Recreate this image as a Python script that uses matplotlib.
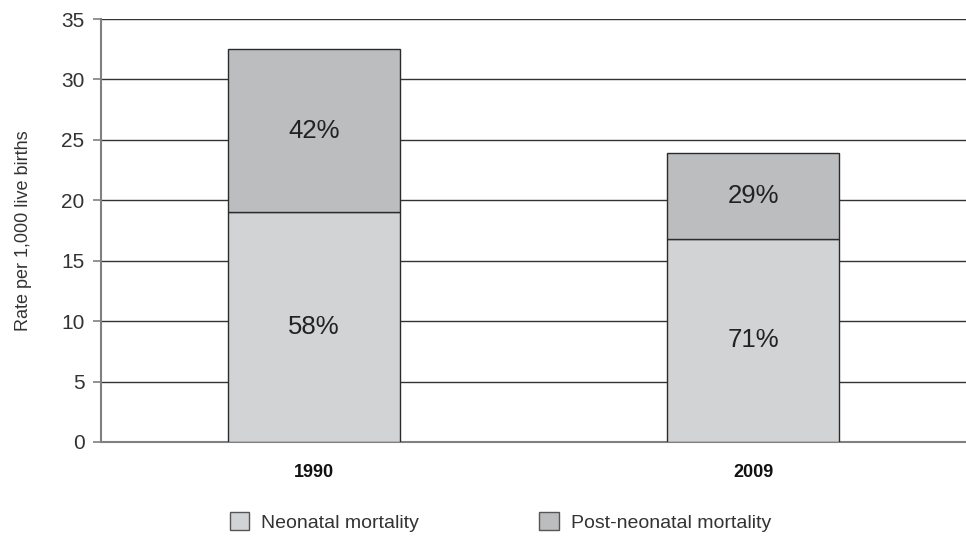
import numpy as np
import matplotlib.pyplot as plt
from matplotlib.patches import Patch

plt.rcParams['font.family'] = ['Liberation Sans', 'DejaVu Sans']

years = ['1990', '2009']
neonatal = [19.0, 16.8]
post_neonatal = [13.5, 7.1]
neonatal_pct = ['58%', '71%']
post_pct = ['42%', '29%']

col_neo = '#d2d3d5'
col_post = '#bcbdbf'
edge = '#2b2b2b'

fig = plt.figure(figsize=(9.66, 5.37), dpi=100)
ax = fig.add_axes([0.1046, 0.177, 0.8954, 0.7876])

x = np.arange(len(years))
w = 0.392
ax.bar(x, neonatal, w, color=col_neo, edgecolor=edge, linewidth=1, zorder=3)
ax.bar(x, post_neonatal, w, bottom=neonatal, color=col_post, edgecolor=edge, linewidth=1, zorder=3)

for i in range(len(years)):
    ax.text(x[i], neonatal[i] / 2, neonatal_pct[i], ha='center', va='center',
            fontsize=18.5, color='#222222', zorder=4)
    ax.text(x[i], neonatal[i] + post_neonatal[i] / 2, post_pct[i], ha='center', va='center',
            fontsize=18.5, color='#222222', zorder=4)

ax.set_ylim(0, 35)
ax.set_xlim(-0.485, 1.485)
ax.set_yticks(np.arange(0, 36, 5))
ax.yaxis.grid(True, color='#333333', linewidth=1, zorder=0)
ax.set_axisbelow(True)

for s in ['top', 'right']:
    ax.spines[s].set_visible(False)
ax.spines['left'].set_color('#808080')
ax.spines['left'].set_linewidth(1.5)
ax.spines['bottom'].set_color('#808080')
ax.spines['bottom'].set_linewidth(1.5)

ax.tick_params(axis='y', length=6, width=1.2, color='#808080', pad=6, labelsize=15, labelcolor='#333333')
ax.tick_params(axis='x', length=0, pad=16)
ax.set_xticks(x)
ax.set_xticklabels(years, fontsize=13, fontweight='bold', color='#111111')

ax.set_ylabel('Rate per 1,000 live births', fontsize=13, color='#333333', labelpad=21)

handles = [Patch(facecolor=col_neo, edgecolor='#555555', label='Neonatal mortality'),
           Patch(facecolor=col_post, edgecolor='#555555', label='Post-neonatal mortality')]
fig.legend(handles=handles, loc='center', bbox_to_anchor=(0.518, 0.028), ncol=2, frameon=False,
           fontsize=14, handlelength=1.0, handleheight=1.0, handletextpad=0.6,
           columnspacing=6.2, labelcolor='#333333')

fig.savefig('out.png', dpi=100)
